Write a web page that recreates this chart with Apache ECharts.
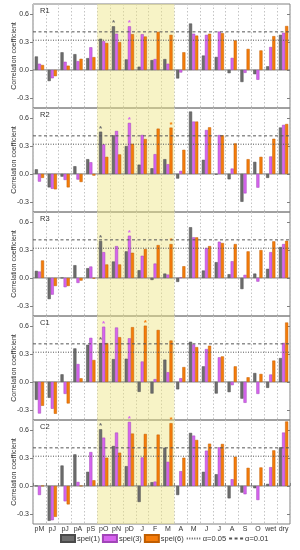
<!DOCTYPE html>
<html><head><meta charset="utf-8">
<script src="https://cdn.jsdelivr.net/npm/echarts@6/dist/echarts.min.js"></script>
<style>html,body{margin:0;padding:0;background:#fff}#c{width:300px;height:550px}</style>
</head><body><div id="c"></div>
<script>
const categories = ['pM','pJ','pJ','pA','pS','pO','pN','pD','J','F','M','A','M','J','J','A','S','O','wet','dry'];
const panelNames = ['R1','R2','R3','C1','C2'];
const seriesNames = ['spei(1)','spei(3)','spei(6)'];
const yTickLabels = [-0.3, 0.0, 0.3, 0.6];
const alpha05 = 0.32;
const alpha01 = 0.41;
const bandFrom = 'pO', bandToIndex = 10; // pO .. M (growing season highlight)

const r1_spei1 = [0.145,-0.12,0.19,0.17,0.127,0.336,0.47,0.113,0.035,0.106,0.117,-0.092,0.50,0.155,0.14,-0.035,-0.13,-0.046,0.039,0.378];
const r1_spei3 = [0.067,-0.09,0.088,0.095,0.244,0.31,0.39,0.47,0.385,0.117,0.067,-0.028,0.39,0.378,0.413,0.13,-0.032,-0.106,0.247,0.40];
const r1_spei6 = [0.053,-0.067,0.046,0.12,0.138,0.29,0.30,0.385,0.36,0.41,0.378,0.19,0.37,0.39,0.396,0.318,0.226,0.21,0.364,0.473];
const r1_sig = [[0,6],[1,7]];

const r2_spei1 = [0.05,-0.145,-0.029,0.083,0.159,0.455,0.416,0.30,0.10,0.061,0.159,-0.05,0.672,0.152,-0.007,-0.058,-0.30,0.13,-0.043,0.50];
const r2_spei3 = [-0.083,-0.16,-0.065,-0.061,0.126,0.318,0.463,0.55,0.42,0.213,0.105,0.033,0.564,0.473,0.419,0.058,-0.21,-0.148,0.188,0.528];
const r2_spei6 = [-0.043,-0.166,-0.145,-0.087,-0.018,0.184,0.21,0.325,0.376,0.488,0.499,0.26,0.564,0.502,0.416,0.329,0.159,0.184,0.379,0.538];
const r2_sig = [[0,5],[1,7],[2,10]];

const r3_spei1 = [0.076,-0.228,0.0,0.137,0.105,0.398,0.177,0.286,0.083,-0.022,0.047,-0.043,0.546,0.08,0.17,0.04,-0.12,0.047,0.098,0.333];
const r3_spei3 = [0.069,-0.18,-0.10,-0.054,0.123,0.278,0.343,0.455,0.239,0.155,0.036,0.005,0.437,0.322,0.39,0.18,0.033,-0.04,0.278,0.365];
const r3_spei6 = [0.188,-0.087,-0.087,-0.029,-0.007,0.145,0.145,0.271,0.311,0.354,0.365,0.126,0.437,0.343,0.376,0.365,0.286,0.30,0.394,0.40];
const r3_sig = [[0,5],[1,7],[2,10]];

const c1_spei1 = [-0.193,-0.171,0.082,0.361,0.40,0.418,0.246,0.25,-0.107,-0.125,0.24,-0.08,0.433,0.168,-0.125,-0.11,-0.18,0.096,-0.064,0.257];
const c1_spei3 = [-0.34,-0.289,-0.129,0.193,0.475,0.595,0.586,0.47,0.22,0.03,0.105,0.04,0.404,0.354,0.265,-0.035,-0.225,-0.129,0.08,0.42];
const c1_spei6 = [-0.257,-0.343,-0.232,0.039,0.236,0.418,0.482,0.59,0.606,0.56,0.446,0.16,0.375,0.39,0.275,0.168,0.05,0.086,0.23,0.64];
const c1_sig = [[0,5],[1,5],[2,8]];

const c2_spei1 = [0,-0.376,0.22,0.34,0.152,0.61,0.43,0.213,-0.173,0.04,0.412,-0.098,0.571,0.152,0.126,-0.134,-0.072,-0.025,0.022,0.416];
const c2_spei3 = [-0.098,-0.369,-0.166,0.043,0.365,0.52,0.575,0.69,0.307,0.047,0.26,0.159,0.542,0.38,0.416,0.072,-0.09,-0.152,0.202,0.575];
const c2_spei6 = [0,-0.333,-0.199,0,0.061,0.304,0.358,0.564,0.56,0.553,0.676,0.304,0.495,0.455,0.452,0.314,0.195,0.199,0.383,0.694];
const c2_sig = [[0,5],[1,7],[2,10]];

const panelData = [
  [r1_spei1, r1_spei3, r1_spei6],
  [r2_spei1, r2_spei3, r2_spei6],
  [r3_spei1, r3_spei3, r3_spei6],
  [c1_spei1, c1_spei3, c1_spei6],
  [c2_spei1, c2_spei3, c2_spei6]
];
const panelSig = [r1_sig, r2_sig, r3_sig, c1_sig, c2_sig];

const colors = ['#6e6e6e', '#d764ef', '#f57c0a'];
const borders = ['#4a4a4a', '#a145b8', '#c15e00'];
const FONT = 'Liberation Sans, Arial, sans-serif';
const txt = '#333';
const refColor = '#555';

const gridTop0 = 4, gridH = 104, gridLeft = 33, gridRight = 10;
const yMin = -0.41, yMax = 0.71;

const grid = [], xAxis = [], yAxis = [], series = [], title = [];
const nCat = categories.length;
const bandStart = categories.indexOf(bandFrom);
const bandEnd = bandToIndex + 1;

panelNames.forEach((pn, i) => {
  const top = gridTop0 + i * gridH;
  const last = i === panelNames.length - 1;
  grid.push({left: gridLeft, right: gridRight, top: top, height: gridH, show: true,
    outerBoundsMode: 'none', containLabel: false,
    borderColor: '#808080', borderWidth: 1, backgroundColor: 'transparent'});
  title.push({text: pn, left: gridLeft + 7, top: top + 3, padding: 0,
    textStyle: {fontSize: 7.5, fontWeight: 'normal', color: txt, fontFamily: FONT}});
  xAxis.push({type: 'category', gridIndex: i, data: categories, boundaryGap: true,
    axisLine: {show: false}, axisTick: {show: last, inside: true, length: 3, lineStyle: {color: '#808080'}},
    splitLine: {show: true, interval: 0, lineStyle: {type: [1.5, 2], color: '#c4c4c4', width: 1}},
    axisLabel: {show: last, interval: 0, fontSize: 7, color: txt, margin: 2, fontFamily: FONT,
      hideOverlap: false}});
  xAxis.push({type: 'value', gridIndex: i, min: 0, max: nCat, show: false});
  yAxis.push({type: 'value', gridIndex: i, min: yMin, max: yMax,
    name: 'Correlation coefficient', nameLocation: 'middle', nameGap: 15, nameMoveOverlap: false,
    nameTextStyle: {fontSize: 7, color: txt, fontFamily: FONT},
    axisLine: {show: false},
    axisTick: {show: true, length: 3, lineStyle: {color: '#808080'}, customValues: yTickLabels},
    axisLabel: {fontSize: 7, color: txt, margin: 4, fontFamily: FONT, customValues: yTickLabels,
      formatter: v => v.toFixed(1)},
    splitLine: {show: false}});
  yAxis.push({type: 'value', gridIndex: i, min: yMin, max: yMax, position: 'right',
    axisLine: {show: false},
    axisTick: {show: true, inside: true, length: 3, lineStyle: {color: '#808080'}, customValues: yTickLabels},
    axisLabel: {show: false}, splitLine: {show: false}});

  const xc = 2 * i, xv = 2 * i + 1, yl = 2 * i;
  series.push({type: 'line', name: 'zero', xAxisIndex: xv, yAxisIndex: yl, z: 1,
    data: [[0, 0], [nCat, 0]], symbol: 'none', silent: true,
    lineStyle: {color: '#777', width: 1},
    markArea: {silent: true, itemStyle: {color: 'rgba(238,228,128,0.45)'},
      data: [[{xAxis: bandStart}, {xAxis: bandEnd}]]}});
  panelData[i].forEach((vals, s) => {
    const sig = panelSig[i].filter(d => d[0] === s).map(d => d[1]);
    series.push({type: 'bar', name: seriesNames[s], xAxisIndex: xc, yAxisIndex: yl, z: 3,
      barGap: '0%', barCategoryGap: '28%',
      itemStyle: {color: colors[s], borderColor: borders[s], borderWidth: 0.5},
      data: vals.map((v, k) => sig.includes(k)
        ? {value: v, label: {show: true, position: 'top', formatter: '*', distance: -1,
            fontSize: 8, color: colors[s], fontWeight: 'bold'}}
        : v)});
  });
  series.push({type: 'line', name: 'α=0.05', xAxisIndex: xv, yAxisIndex: yl, z: 4,
    data: [[0, alpha05], [nCat, alpha05]], symbol: 'none', silent: true,
    itemStyle: {color: refColor},
    lineStyle: {color: refColor, width: 1, type: [1, 1.5]}});
  series.push({type: 'line', name: 'α=0.01', xAxisIndex: xv, yAxisIndex: yl, z: 4,
    data: [[0, alpha01], [nCat, alpha01]], symbol: 'none', silent: true,
    itemStyle: {color: refColor},
    lineStyle: {color: refColor, width: 1, type: [3, 2.5]}});
});

const chart = echarts.init(document.getElementById('c'), null, {renderer: 'canvas'});
chart.setOption({
  animation: false,
  textStyle: {fontFamily: FONT},
  title: title,
  grid: grid, xAxis: xAxis, yAxis: yAxis, series: series,
  legend: {top: 534, left: 60, padding: 0, itemWidth: 14, itemHeight: 7, itemGap: 2,
    textStyle: {fontSize: 7.5, color: txt, fontFamily: FONT, padding: [0, 0, 0, -3]},
    data: [{name: 'spei(1)', icon: 'rect'}, {name: 'spei(3)', icon: 'rect'}, {name: 'spei(6)', icon: 'rect'},
      {name: 'α=0.05', itemStyle: {opacity: 0}}, {name: 'α=0.01', itemStyle: {opacity: 0}}]}
});
</script></body></html>
